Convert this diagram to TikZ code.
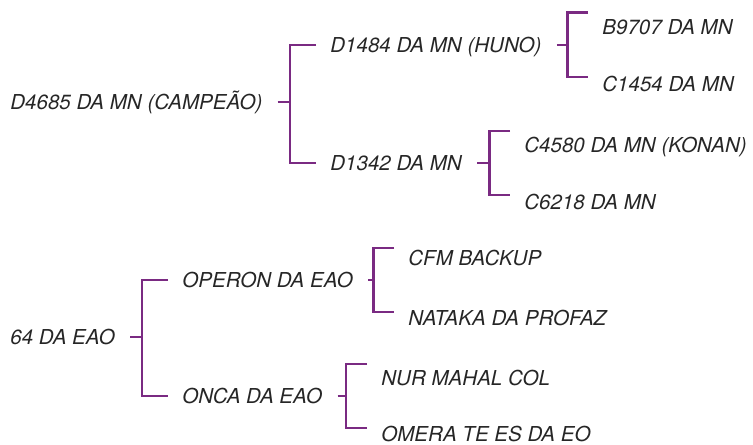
\documentclass[tikz,border=0pt]{standalone}
\usepackage{fontspec}
\setmainfont{TeX Gyre Heros}
\usetikzlibrary{calc}
\definecolor{cpurple}{HTML}{7A2A82}
\definecolor{ctext}{HTML}{262626}
\tikzset{
  horse/.style={anchor=west, inner sep=0pt, text height=8.4pt, text depth=0pt, text=ctext, font=\fontsize{11.7}{13}\selectfont\itshape},
  link/.style={draw=cpurple, line width=1.7pt},
}

\begin{document}
\begin{tikzpicture}[x=0.02cm, y=-0.02cm]
  \useasboundingbox (0,0) rectangle (753,445);
  % top pedigree
  \node[horse] (t) at (10,102) {D4685 DA MN (CAMPEÃO)};
  \node[horse] (ta) at (330,45) {D1484 DA MN (HUNO)};
  \node[horse] (tb) at (330,163) {D1342 DA MN};
  \node[horse] (taa) at (602,27) {B9707 DA MN};
  \node[horse] (tab) at (602,84) {C1454 DA MN};
  \node[horse] (tba) at (524,145) {C4580 DA MN (KONAN)};
  \node[horse] (tbb) at (524,202) {C6218 DA MN};
  \draw[link] ($(t.east)+(15,0)$) -- ($(ta.west |- t.east)+(-40,0)$);
  \draw[link] ($(ta.west)+(-14,0)$) -| ($(tb.west)+(-40,0)$) -- ($(tb.west)+(-14,0)$);
  \draw[link] ($(ta.east)+(15,0)$) -- ($(taa.west |- ta.east)+(-35,0)$);
  \draw[link] ($(taa.west |- ta.east)+(-14,-32)$) -| ($(tab.west |- ta.east)+(-35,32)$) -- ($(tab.west |- ta.east)+(-14,32)$);
  \draw[link] ($(tb.east)+(15,0)$) -- ($(tba.west |- tb.east)+(-35,0)$);
  \draw[link] ($(tba.west |- tb.east)+(-14,-32)$) -| ($(tbb.west |- tb.east)+(-35,32)$) -- ($(tbb.west |- tb.east)+(-14,32)$);
  % bottom pedigree
  \node[horse] (b) at (10,337) {64 DA EAO};
  \node[horse] (ba) at (182,280) {OPERON DA EAO};
  \node[horse] (bb) at (182,396) {ONCA DA EAO};
  \node[horse] (baa) at (408,258) {CFM BACKUP};
  \node[horse] (bab) at (408,318) {NATAKA DA PROFAZ};
  \node[horse] (bba) at (381,378) {NUR MAHAL COL};
  \node[horse] (bbb) at (381,434) {OMERA TE ES DA EO};
  \draw[link] ($(b.east)+(15,0)$) -- ($(ba.west |- b.east)+(-40,0)$);
  \draw[link] ($(ba.west)+(-14,0)$) -| ($(bb.west)+(-40,0)$) -- ($(bb.west)+(-14,0)$);
  \draw[link] ($(ba.east)+(15,0)$) -- ($(baa.west |- ba.east)+(-35,0)$);
  \draw[link] ($(baa.west |- ba.east)+(-14,-32)$) -| ($(bab.west |- ba.east)+(-35,32)$) -- ($(bab.west |- ba.east)+(-14,32)$);
  \draw[link] ($(bb.east)+(15,0)$) -- ($(bba.west |- bb.east)+(-35,0)$);
  \draw[link] ($(bba.west |- bb.east)+(-14,-32)$) -| ($(bbb.west |- bb.east)+(-35,32)$) -- ($(bbb.west |- bb.east)+(-14,32)$);
\end{tikzpicture}
\end{document}
